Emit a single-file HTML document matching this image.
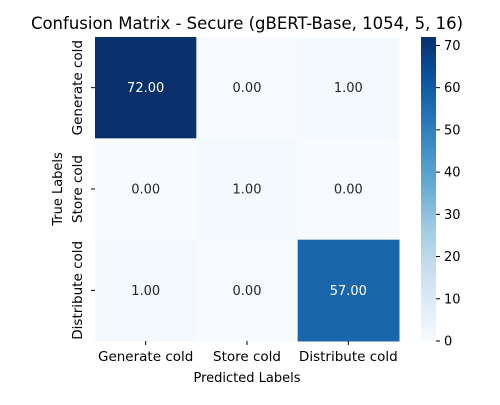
<!DOCTYPE html>
<html><head><meta charset="utf-8"><style>
body{margin:0;background:#fff;font-family:"Liberation Sans","DejaVu Sans",sans-serif}
text{font-family:"DejaVu Sans","Liberation Sans",sans-serif}
</style></head><body>
<svg id="c" width="500" height="400" xmlns="http://www.w3.org/2000/svg">
<defs><linearGradient id="cbg" x1="0" y1="1" x2="0" y2="0">
<stop offset="0" stop-color="#f7fbff"/><stop offset="0.125" stop-color="#deebf7"/><stop offset="0.25" stop-color="#c6dbef"/><stop offset="0.375" stop-color="#9ecae1"/><stop offset="0.5" stop-color="#6baed6"/><stop offset="0.625" stop-color="#4292c6"/><stop offset="0.75" stop-color="#2171b5"/><stop offset="0.875" stop-color="#08519c"/><stop offset="1" stop-color="#08306b"/>
</linearGradient></defs>
<text x="247" y="29" font-size="16.5" text-anchor="middle">Confusion Matrix - Secure (gBERT-Base, 1054, 5, 16)</text>
<g id="cells"></g>
<rect x="421" y="37" width="15" height="304" fill="url(#cbg)"/>
<g id="cbt"></g>
<text x="247" y="382" font-size="13" text-anchor="middle">Predicted Labels</text>
<text transform="translate(62,189) rotate(-90)" font-size="13" text-anchor="middle">True Labels</text>
</svg>
<script>
const labels=["Generate cold","Store cold","Distribute cold"];
const values=[[72,0,1],[0,1,0],[1,0,57]];
const cbTicks=[0,10,20,30,40,50,60,70];
const vmin=0,vmax=72;
const NS="http://www.w3.org/2000/svg";
const X0=95,Y0=37,S=304/3;
const stops=["#f7fbff","#deebf7","#c6dbef","#9ecae1","#6baed6","#4292c6","#2171b5","#08519c","#08306b"];
function hex(h){return [1,3,5].map(i=>parseInt(h.substr(i,2),16));}
function cmap(v){let t=(v-vmin)/(vmax-vmin)*8;let i=Math.min(7,Math.floor(t));let f=t-i;let a=hex(stops[i]),b=hex(stops[i+1]);
return "rgb("+a.map((x,k)=>Math.round(x+(b[k]-x)*f)).join(",")+")";}
function cy(v){return 341-(v-vmin)/(vmax-vmin)*304;}
function mk(tag,attrs,parent){const e=document.createElementNS(NS,tag);for(const k in attrs)e.setAttribute(k,attrs[k]);parent.appendChild(e);return e;}
const svg=document.getElementById("c"),cells=document.getElementById("cells"),cbt=document.getElementById("cbt");
values.forEach((row,r)=>row.forEach((v,c)=>{
 const rc=mk("rect",{x:X0+c*S,y:Y0+r*S,width:S+0.5,height:S+0.5,fill:cmap(v)},cells);
 
 
 const t=mk("text",{x:X0+c*S+S/2,y:Y0+r*S+S/2+4.5,"font-size":13,"text-anchor":"middle",fill:v>36?"#fff":"#262626"},cells);
 t.textContent=v.toFixed(2);
 
 
}));
labels.forEach((l,i)=>{
 const x=X0+i*S+S/2;
 mk("line",{x1:x,x2:x,y1:341,y2:345,stroke:"#000"},svg);
 const t=mk("text",{x:x,y:361,"font-size":13.5,"text-anchor":"middle"},svg);t.textContent=l;
 
 
 const y=Y0+i*S+S/2;
 mk("line",{x1:91,x2:95,y1:y,y2:y,stroke:"#000"},svg);
 const u=mk("text",{transform:`translate(82,${y}) rotate(-90)`,"font-size":13.5,"text-anchor":"middle"},svg);u.textContent=l;
 
 
});
cbTicks.forEach(v=>{
 const y=cy(v);
 mk("line",{x1:436,x2:440,y1:y,y2:y,stroke:"#000"},cbt);
 const t=mk("text",{x:444,y:y+4.5,"font-size":13},cbt);t.textContent=v;
 
 
});
</script>
</body></html>
